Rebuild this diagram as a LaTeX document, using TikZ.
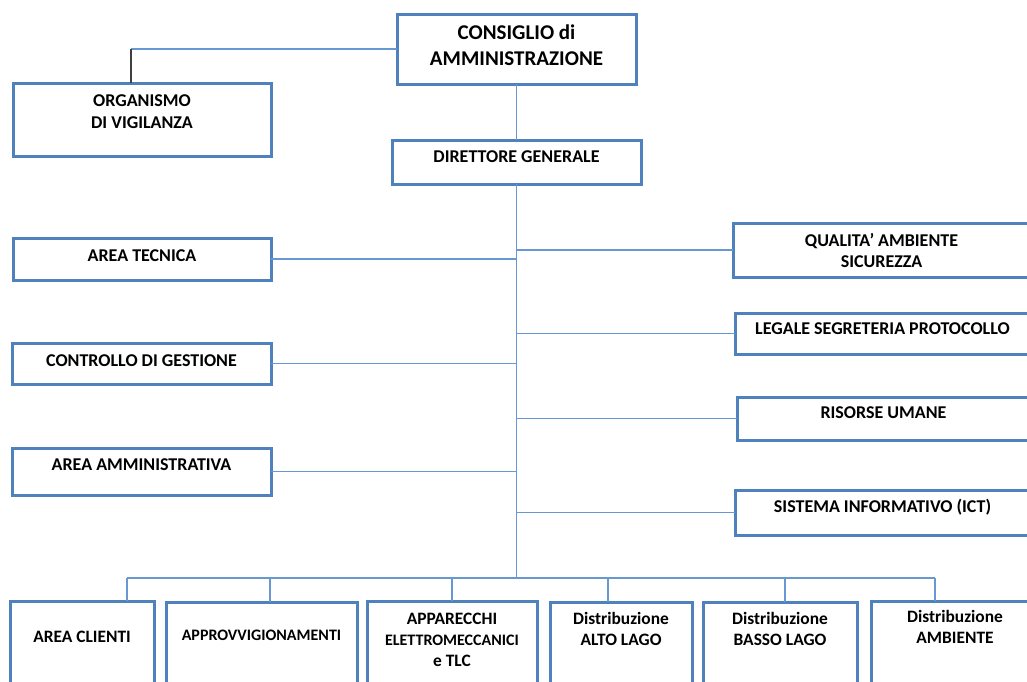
\documentclass[tikz,border=0pt]{standalone}
\usepackage{fontspec}
\setmainfont{Carlito}
\usepackage{xcolor}
\usetikzlibrary{positioning}
\definecolor{boxblue}{RGB}{79,129,189}
\definecolor{lineblue}{RGB}{104,152,210}

\begin{document}
\begin{tikzpicture}[x=0.5pt, y=-0.5pt,
    unit/.style={draw=boxblue, line width=1.5pt, fill=white, align=center,
        inner xsep=0pt, inner ysep=0pt, outer sep=0pt, anchor=north west,
        font=\bfseries\fontsize{9}{11}\selectfont},
    small/.style={font=\bfseries\fontsize{8.7}{10.5}\selectfont},
    link/.style={draw=lineblue, line width=0.8pt}]
    \useasboundingbox (0,0) rectangle (1027,681);
    \clip (0,0) rectangle (1027,681);

    % vertici
    \node[unit, minimum width=119.5pt, text height=25.5pt, text depth=9.5pt,
        font=\bfseries\fontsize{10.5}{13}\selectfont] (cda) at (397,14) {CONSIGLIO di\\AMMINISTRAZIONE};
    \node[unit, minimum width=129pt, text height=22.75pt, text depth=13.75pt] (odv) at (13,83) {ORGANISMO\\DI VIGILANZA};
    \node[unit, minimum width=124.5pt, text height=11.25pt, text depth=10.75pt] (dg) at (392,140) {DIRETTORE GENERALE};

    % aree a sinistra
    \node[unit, minimum width=129pt, text height=11.75pt, text depth=9.25pt] (at) at (13,238) {AREA TECNICA};
    \node[unit, minimum width=129.5pt, text height=11.75pt, text depth=8.75pt] (cdg) at (12,343) {CONTROLLO DI GESTIONE};
    \node[unit, minimum width=129.5pt, text height=11.25pt, text depth=12.25pt] (aa) at (12,448) {AREA AMMINISTRATIVA};

    % staff a destra
    \node[unit, minimum width=148.5pt, text height=22.25pt, text depth=4.75pt,
        font=\bfseries\fontsize{9}{10.5}\selectfont] (qas) at (733,223) {QUALITA’ AMBIENTE\\SICUREZZA};
    \node[unit, minimum width=147.5pt, text height=10.75pt, text depth=9.75pt] (lsp) at (735,313) {LEGALE SEGRETERIA PROTOCOLLO};
    \node[unit, minimum width=146.5pt, text height=10.75pt, text depth=10.75pt] (ru) at (737,397) {RISORSE UMANE};
    \node[unit, minimum width=147.5pt, text height=11.25pt, text depth=11.25pt] (si) at (735,490) {SISTEMA INFORMATIVO (ICT)};

    % unita in basso
    \node[unit, small, minimum width=72pt, text height=20.8pt, text depth=28.7pt] (ac) at (10,601) {AREA CLIENTI};
    \node[unit, small, minimum width=95.5pt, text height=19.1pt, text depth=30pt,
        font=\bfseries\fontsize{8}{10.5}\selectfont] (app) at (166,602) {APPROVVIGIONAMENTI};
    \node[unit, small, minimum width=85pt, text height=32.8pt, text depth=16.7pt] (aem) at (367,601)
        {APPARECCHI\\{\fontsize{8}{10.5}\selectfont ELETTROMECCANICI}\\e TLC};
    \node[unit, small, minimum width=71pt, text height=21.8pt, text depth=27.2pt] (dal) at (550,602) {Distribuzione\\ALTO LAGO};
    \node[unit, small, minimum width=77pt, text height=21.8pt, text depth=27.2pt] (dbl) at (703,602) {Distribuzione\\BASSO LAGO};
    \node[unit, small, minimum width=84pt, text height=21.3pt, text depth=28.2pt] (dam) at (871,601) {Distribuzione\\AMBIENTE};

    % collegamenti
    \path (cda.west) ++(-266,0) coordinate (kodv);
    \draw[link] (cda.west) -- (kodv);
    \draw[darkgray, line width=0.8pt] (kodv) -- (kodv |- odv.north);
    \draw[link] (cda.south) -- (dg.north);
    \coordinate (bus) at (dg.south |- 0,578);
    \draw[link] (dg.south) -- (bus);
    \foreach \n in {at, cdg, aa}
        \draw[link] (\n.east) -- (\n.east -| bus);
    \foreach \n in {qas, lsp, ru, si}
        \draw[link] (\n.west) -- (\n.west -| bus);
    \foreach \x/\n [count=\i] in {127/ac, 270/app, 452/aem, 608/dal, 785/dbl, 935/dam}
    {
        \coordinate (d\i) at (\x,578);
        \draw[link] (d\i) -- (d\i |- \n.north);
    }
    \draw[link] (d1) -- (d6);
\end{tikzpicture}
\end{document}
